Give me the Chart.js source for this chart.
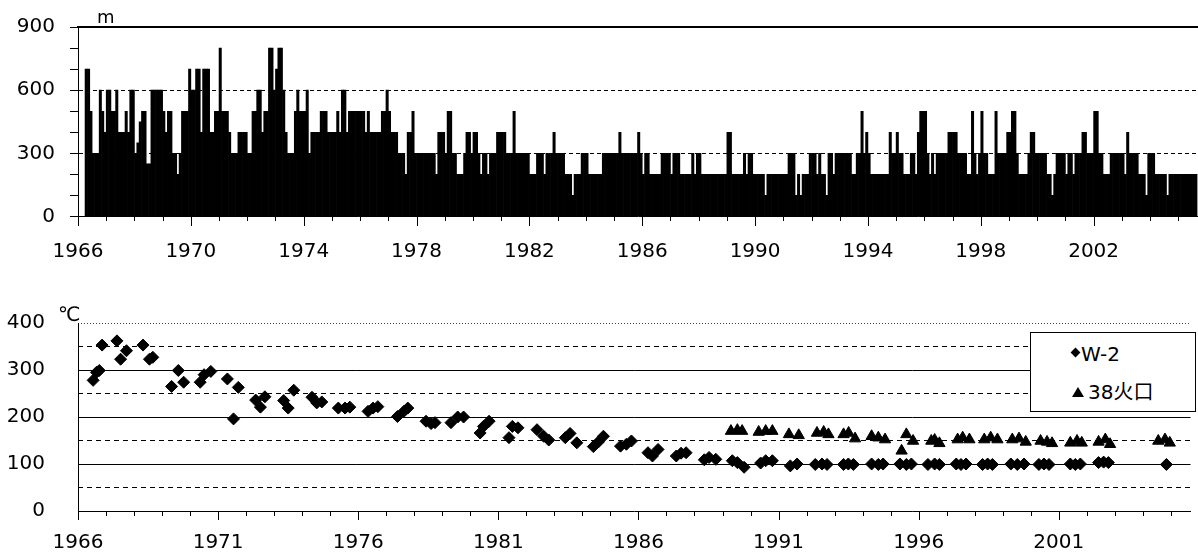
<!DOCTYPE html>
<html>
<head>
<meta charset="utf-8">
<script src="https://cdn.jsdelivr.net/npm/chart.js@4.4.1/dist/chart.umd.min.js"></script>
<style>
  html, body { margin: 0; padding: 0; background: #fff; }
  body { width: 1198px; height: 556px; position: relative; overflow: hidden;
         font-family: "DejaVu Sans", "Noto Sans CJK JP", sans-serif; color: #000; }
  #topWrap { position: absolute; left: 0; top: 0; width: 1198px; height: 270px; }
  #botWrap { position: absolute; left: 0; top: 278px; width: 1198px; height: 278px; }
  .unit { position: absolute; line-height: 1; white-space: nowrap; }
  #unitM { left: 97px; top: 8px; font-size: 18px; }
  #unitC { left: 58px; top: 304px; font-size: 20px; }
  #legendBox { position: absolute; left: 1030px; top: 332px; width: 164px; height: 78px;
               border: 1px solid #000; background: #fff; }
  .entry { position: absolute; font-size: 20px; line-height: 1; white-space: nowrap; }
  .diamond { position: absolute; width: 7px; height: 7px; background: #000; transform: rotate(45deg); }
  .triangle { position: absolute; width: 0; height: 0; border-left: 6px solid transparent;
              border-right: 6px solid transparent; border-bottom: 10px solid #000; }
</style>
</head>
<body>
<div id="topWrap"><canvas id="plumeChart"></canvas></div>
<div id="botWrap"><canvas id="tempChart"></canvas></div>
<div class="unit" id="unitM">m</div>
<div class="unit" id="unitC">℃</div>
<div id="legendBox">
  <div class="diamond" style="left:41px; top:16px;"></div>
  <div class="entry" style="left:50px; top:11px;">W-2</div>
  <div class="triangle" style="left:41px; top:54px;"></div>
  <div class="entry" style="left:57px; top:49px;">38火口</div>
</div>
<script>
// ---- 噴煙の高さ (m), monthly, first value = April 1966 ----
const plumeStartYear = 1966;
const plumeStartMonth = 3; // 0 = January
const plumeHeight = [
  700, 700, 500, 300, 300, 300, 600, 500, 400,                 // 1966 Apr-Dec
  600, 600, 500, 500, 600, 400, 400, 400, 500, 400, 600, 600,  // 1967
  300, 350, 450, 500, 500, 250, 250, 600, 600, 600, 600, 600,  // 1968
  500, 400, 500, 500, 300, 300, 200, 300, 500, 500, 500, 700,  // 1969
  600, 600, 700, 700, 400, 700, 700, 700, 400, 400, 500, 500,  // 1970
  800, 500, 500, 500, 400, 300, 300, 300, 400, 400, 400, 400,  // 1971
  300, 300, 500, 500, 600, 600, 400, 500, 500, 800, 800, 600,  // 1972
  700, 800, 800, 600, 400, 300, 300, 300, 500, 600, 500, 500,  // 1973
  500, 600, 300, 400, 400, 400, 400, 500, 500, 500, 400, 400,  // 1974
  400, 400, 500, 400, 600, 600, 400, 500, 500, 500, 500, 500,  // 1975
  500, 500, 400, 500, 400, 400, 400, 400, 400, 500, 500, 600,  // 1976
  500, 400, 400, 400, 300, 300, 300, 200, 400, 400, 500, 300,  // 1977
  300, 300, 300, 300, 300, 300, 300, 300, 200, 400, 400, 400,  // 1978
  300, 500, 500, 300, 300, 200, 200, 200, 300, 400, 400, 300,  // 1979
  400, 400, 300, 200, 300, 300, 200, 300, 300, 300, 400, 400,  // 1980
  400, 400, 300, 300, 300, 500, 300, 300, 300, 300, 300, 300,  // 1981
  200, 200, 200, 300, 300, 300, 200, 300, 300, 300, 400, 300,  // 1982
  300, 300, 300, 200, 200, 200, 100, 200, 200, 200, 300, 300,  // 1983
  300, 200, 200, 200, 200, 200, 200, 300, 300, 300, 300, 300,  // 1984
  300, 300, 400, 300, 300, 300, 300, 300, 300, 300, 400, 300,  // 1985
  200, 300, 300, 200, 200, 200, 200, 200, 300, 300, 300, 300,  // 1986
  200, 300, 300, 300, 200, 200, 200, 200, 200, 300, 200, 300,  // 1987
  300, 200, 200, 200, 200, 200, 200, 200, 200, 200, 200, 200,  // 1988
  400, 400, 200, 200, 200, 200, 200, 300, 200, 300, 300, 200,  // 1989
  200, 200, 200, 200, 100, 200, 200, 200, 200, 200, 200, 200,  // 1990
  200, 200, 300, 300, 300, 100, 200, 100, 200, 200, 200, 300,  // 1991
  300, 300, 200, 300, 200, 200, 100, 300, 300, 200, 300, 300,  // 1992
  300, 300, 300, 300, 300, 200, 200, 300, 300, 500, 300, 400,  // 1993
  300, 200, 200, 200, 200, 200, 200, 200, 200, 400, 300, 300,  // 1994
  400, 300, 300, 200, 200, 200, 300, 300, 200, 400, 500, 500,  // 1995
  500, 300, 200, 300, 200, 300, 300, 300, 300, 300, 400, 400,  // 1996
  400, 400, 300, 300, 300, 300, 200, 200, 500, 300, 200, 300,  // 1997
  500, 300, 300, 200, 200, 200, 500, 300, 300, 300, 300, 400,  // 1998
  400, 500, 500, 300, 200, 200, 200, 200, 300, 400, 400, 300,  // 1999
  300, 300, 300, 300, 200, 200, 100, 200, 300, 300, 300, 300,  // 2000
  200, 300, 300, 200, 300, 300, 300, 400, 400, 300, 300, 300,  // 2001
  500, 500, 300, 300, 200, 200, 200, 300, 300, 300, 300, 300,  // 2002
  300, 200, 400, 300, 300, 300, 300, 200, 200, 200, 100, 300,  // 2003
  300, 300, 200, 200, 200, 200, 200, 100, 200, 200, 200, 200,  // 2004
  200, 200, 200, 200, 200, 200, 200, 200                       // 2005 Jan-Aug
];

// ---- 噴気温度 (℃) ----
const w2Year = [
  1966.54, 1966.66, 1966.76, 1966.86, 1967.39, 1967.52, 1967.73, 1968.32, 1968.55, 1968.67,
  1969.34, 1969.58, 1969.77, 1970.36, 1970.50, 1970.74, 1971.33, 1971.55, 1971.72,
  1972.34, 1972.51, 1972.67, 1973.34, 1973.50, 1973.70, 1974.35, 1974.52, 1974.70,
  1975.29, 1975.53, 1975.70, 1976.35, 1976.53, 1976.70, 1977.40, 1977.63, 1977.77,
  1978.42, 1978.60, 1978.74, 1979.31, 1979.55, 1979.76, 1980.35, 1980.47, 1980.67,
  1981.38, 1981.50, 1981.70, 1982.38, 1982.62, 1982.80, 1983.39, 1983.56, 1983.80,
  1984.39, 1984.57, 1984.75, 1985.36, 1985.57, 1985.75, 1986.34, 1986.50, 1986.70,
  1987.35, 1987.52, 1987.70, 1988.35, 1988.52, 1988.76, 1989.35, 1989.53, 1989.77,
  1990.36, 1990.54, 1990.78, 1991.42, 1991.66, 1992.31, 1992.55, 1992.73,
  1993.32, 1993.49, 1993.67, 1994.32, 1994.56, 1994.73, 1995.33, 1995.56, 1995.74,
  1996.33, 1996.57, 1996.74, 1997.34, 1997.51, 1997.69, 1998.28, 1998.46, 1998.63,
  1999.29, 1999.52, 1999.76, 2000.29, 2000.47, 2000.65, 2001.41, 2001.59, 2001.77,
  2002.42, 2002.60, 2002.77, 2004.84
];
const w2Temp = [
  278, 295, 299, 353, 362, 323, 341, 353, 323, 327,
  265, 299, 274, 274, 290, 297, 281, 196, 263,
  236, 221, 243, 235, 219, 257, 242, 230, 232,
  219, 219, 221, 212, 219, 222, 201, 212, 219,
  191, 186, 188, 188, 200, 200, 166, 180, 191,
  156, 180, 177, 173, 159, 151, 156, 165, 145,
  137, 147, 159, 138, 142, 149, 124, 117, 131,
  117, 123, 124, 109, 114, 110, 107, 103, 93,
  102, 107, 107, 96, 100, 99, 100, 99,
  99, 100, 99, 100, 99, 100, 100, 99, 100,
  99, 100, 99, 100, 99, 100, 99, 100, 99,
  100, 99, 100, 99, 100, 99, 100, 99, 100,
  103, 104, 103, 99
];
const k38Year = [
  1989.30, 1989.53, 1989.70, 1990.29, 1990.54, 1990.78, 1991.37, 1991.72,
  1992.37, 1992.61, 1992.78, 1993.32, 1993.50, 1993.73, 1994.32, 1994.56, 1994.80,
  1995.39, 1995.56, 1995.80, 1996.45, 1996.57, 1996.74, 1997.39, 1997.57, 1997.81,
  1998.34, 1998.57, 1998.81, 1999.34, 1999.58, 1999.82, 2000.35, 2000.58, 2000.76,
  2001.41, 2001.65, 2001.82, 2002.42, 2002.66, 2002.83, 2004.55, 2004.79, 2004.96
];
const k38Temp = [
  170, 172, 170, 168, 170, 170, 163, 161,
  166, 168, 163, 163, 166, 154, 159, 156, 152,
  128, 163, 149, 149, 151, 144, 152, 156, 152,
  152, 156, 152, 152, 154, 147, 149, 147, 144,
  145, 149, 145, 147, 152, 142, 149, 152, 145
];

const xMin = 1966;
const xMax = 2005.7;
const tickFont = { family: 'DejaVu Sans', size: 20 };

// year tick marks below the x axis: long at labelled years, short otherwise
const yearTicks = {
  id: 'yearTicks',
  afterDraw(chart, args, opts) {
    const sx = chart.scales.x;
    const ctx = chart.ctx;
    const y0 = Math.round(chart.chartArea.bottom);
    ctx.save();
    ctx.strokeStyle = '#000';
    ctx.lineWidth = 1;
    sx.ticks.forEach(t => {
      const px = Math.round(sx.getPixelForValue(t.value)) + 0.5;
      const len = (t.value - xMin) % opts.every === 0 ? opts.major : opts.minor;
      ctx.beginPath();
      ctx.moveTo(px, y0);
      ctx.lineTo(px, y0 + len);
      ctx.stroke();
    });
    ctx.restore();
  }
};

const plumePoints = plumeHeight.map((h, i) => ({
  x: plumeStartYear + (plumeStartMonth + i + 0.5) / 12,
  y: h
}));

// ========== 上段: 噴煙の高さ ==========
new Chart(document.getElementById('plumeChart'), {
  type: 'bar',
  data: {
    datasets: [{
      data: plumePoints,
      backgroundColor: '#000',
      borderWidth: 0,
      barPercentage: 1,
      categoryPercentage: 1
    }]
  },
  options: {
    responsive: true,
    maintainAspectRatio: false,
    animation: false,
    layout: { padding: { top: 27, left: 0, right: 0, bottom: 0 } },
    plugins: {
      legend: { display: false },
      tooltip: { enabled: false },
      yearTicks: { every: 4, major: 9, minor: 4 }
    },
    scales: {
      x: {
        type: 'linear',
        min: xMin,
        max: xMax,
        offset: false,
        grid: { display: false },
        border: { display: true, color: '#000', width: 1 },
        ticks: {
          stepSize: 1,
          autoSkip: false,
          includeBounds: false,
          maxRotation: 0,
          padding: 15,
          color: '#000',
          font: tickFont,
          callback: v => ((v - xMin) % 4 === 0 ? String(v) : '')
        },
        afterFit: s => { s.height = 53.5; }
      },
      xTop: {
        type: 'linear',
        position: 'top',
        ticks: { display: false },
        grid: { display: false },
        border: { display: true, color: '#000', width: 2 },
        afterFit: s => { s.height = 0; }
      },
      y: {
        min: 0,
        max: 900,
        ticks: {
          stepSize: 100,
          autoSkip: false,
          padding: 15,
          color: '#000',
          font: tickFont,
          callback: v => (v % 300 === 0 ? String(v) : '')
        },
        grid: {
          color: c => (c.tick && (c.tick.value === 300 || c.tick.value === 600) ? '#000' : 'rgba(0,0,0,0)'),
          tickColor: '#000',
          tickLength: 8,
          drawTicks: true
        },
        border: { display: true, color: '#000', width: 1, dash: [4, 3] },
        afterFit: s => { s.width = 78; }
      }
    }
  },
  plugins: [yearTicks]
});

// ========== 下段: 噴気温度 ==========
new Chart(document.getElementById('tempChart'), {
  type: 'scatter',
  data: {
    datasets: [
      {
        label: 'W-2',
        data: w2Year.map((x, i) => ({ x: x, y: w2Temp[i] })),
        pointStyle: 'rectRot',
        pointRadius: 6,
        backgroundColor: '#000',
        borderColor: '#000',
        borderWidth: 1
      },
      {
        label: '38火口',
        data: k38Year.map((x, i) => ({ x: x, y: k38Temp[i] })),
        pointStyle: 'triangle',
        pointRadius: 6.5,
        backgroundColor: '#000',
        borderColor: '#000',
        borderWidth: 1
      }
    ]
  },
  options: {
    responsive: true,
    maintainAspectRatio: false,
    animation: false,
    layout: { padding: { top: 43.7, left: 0, right: 0, bottom: 0 } },
    plugins: {
      legend: { display: false },
      tooltip: { enabled: false },
      yearTicks: { every: 5, major: 9, minor: 5 }
    },
    scales: {
      x: {
        type: 'linear',
        min: xMin,
        max: xMax,
        grid: { display: false },
        border: { display: true, color: '#000', width: 1 },
        ticks: {
          stepSize: 1,
          autoSkip: false,
          includeBounds: false,
          maxRotation: 0,
          padding: 12,
          color: '#000',
          font: tickFont,
          callback: v => ((v - xMin) % 5 === 0 ? String(v) : '')
        },
        afterFit: s => { s.height = 43.3; }
      },
      y: {
        min: 0,
        max: 400,
        ticks: { stepSize: 100, padding: 33, color: '#000', font: tickFont },
        grid: {
          color: c => (c.tick && c.tick.value > 0 && c.tick.value < 400 ? '#000' : 'rgba(0,0,0,0)'),
          drawTicks: false
        },
        border: { display: true, color: '#000', width: 1 },
        afterFit: s => { s.width = 78; }
      },
      yDash: {
        type: 'linear',
        position: 'left',
        min: 0,
        max: 400,
        ticks: { display: false, stepSize: 50 },
        grid: {
          color: c => (c.tick && c.tick.value % 100 === 50 ? '#000' : 'rgba(0,0,0,0)'),
          drawTicks: false
        },
        border: { display: false, dash: [5, 4] },
        afterFit: s => { s.width = 0; }
      },
      yDot: {
        type: 'linear',
        position: 'left',
        min: 0,
        max: 400,
        ticks: { display: false, stepSize: 400 },
        grid: {
          color: c => (c.tick && c.tick.value === 400 ? '#444' : 'rgba(0,0,0,0)'),
          drawTicks: false
        },
        border: { display: false, dash: [1, 2] },
        afterFit: s => { s.width = 0; }
      }
    }
  },
  plugins: [yearTicks]
});
</script>
</body>
</html>
